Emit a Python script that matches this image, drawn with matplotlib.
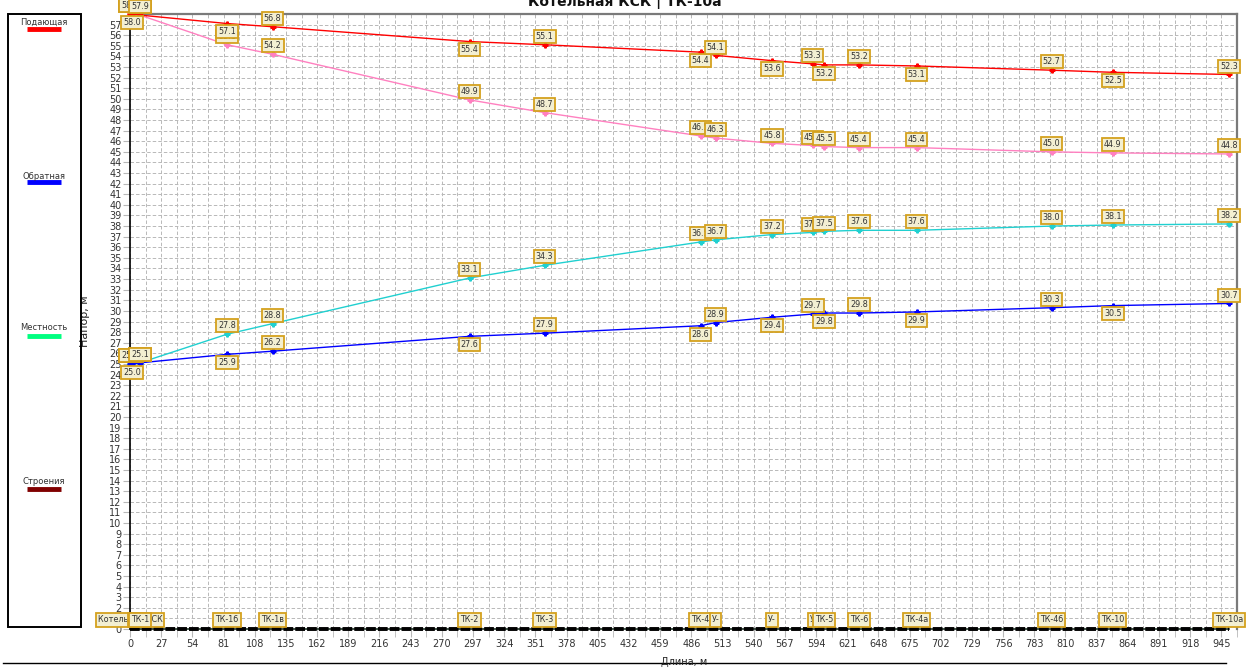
import matplotlib
matplotlib.use('Agg')
import matplotlib.pyplot as plt
from matplotlib.patches import Rectangle
from matplotlib.lines import Line2D

plt.rcParams['font.family'] = ['DejaVu Sans']
plt.rcParams['lines.scale_dashes'] = False

# ---------------- data ----------------
node_names = ['Котельная КСК', 'У', 'ТК-1', 'ТК-1б', 'ТК-1в', 'ТК-2', 'ТК-3', 'ТК-4', 'У-',
              'У-', 'У', 'ТК-5', 'ТК-6', 'ТК-4а', 'ТК-4б', 'ТК-10', 'ТК-10а']
node_x = [0, 2, 8.5, 84, 123.5, 294, 359, 494, 507, 556, 591, 601, 631, 681, 798, 851, 951.5]
supply_red = [58.0, 58.0, 57.9, 57.1, 56.8, 55.4, 55.1, 54.4, 54.1, 53.6, 53.3, 53.2, 53.2,
              53.1, 52.7, 52.5, 52.3]
supply_pink = [58.0, 58.0, 57.9, 55.1, 54.2, 49.9, 48.7, 46.5, 46.3, 45.8, 45.6, 45.5, 45.4,
               45.4, 45.0, 44.9, 44.8]
return_cyan = [25.0, 25.0, 25.1, 27.8, 28.8, 33.1, 34.3, 36.5, 36.7, 37.2, 37.4, 37.5, 37.6,
               37.6, 38.0, 38.1, 38.2]
return_blue = [25.0, 25.0, 25.1, 25.9, 26.2, 27.6, 27.9, 28.6, 28.9, 29.4, 29.7, 29.8, 29.8,
               29.9, 30.3, 30.5, 30.7]
ground = [0.0] * len(node_x)

legend_names = ['Подающая', 'Обратная', 'Местность', 'Строения']
legend_colors = ['#FF0000', '#0000FF', '#00FF80', '#800000']

title = 'Котельная КСК | ТК-10а'
xlabel = 'Длина, м'
ylabel = 'Напор, м'
xticks = list(range(0, 946, 27))
yticks = list(range(0, 58))

# ---------------- figure ----------------
W, H = 1250, 671
fig = plt.figure(figsize=(W / 100, H / 100), dpi=100)
fig.patch.set_facecolor('white')


def fx(px):
    return px / W


def fy(py):
    return 1 - py / H


ax = fig.add_axes([fx(130), fy(629), fx(1237) - fx(130), fy(14) - fy(629)])
ax.set_xlim(0, 957)
ax.set_ylim(0, 58)

ax.set_xticks(xticks)
ax.set_xticks([t + 13.5 for t in xticks], minor=True)
ax.set_yticks(yticks)
ax.tick_params(axis='x', which='both', length=6, color='#b8b8b8', pad=1.5, labelsize=7,
               labelcolor='#333333')
ax.tick_params(axis='y', length=5, color='#b8b8b8', pad=1, labelsize=7, labelcolor='#333333')
ax.grid(True, which='both', color='#b8b8b8', linestyle=(0, (2.5, 1.5)), linewidth=0.7)
ax.set_axisbelow(True)

ax.spines['bottom'].set_visible(False)
ax.spines['left'].set_color('black')
ax.spines['left'].set_linewidth(1.2)
for s in ('top', 'right'):
    ax.spines[s].set_color('#7a7a7a')
    ax.spines[s].set_linewidth(1.6)

box_style = dict(boxstyle='square,pad=0.25', fc='#F3EFD2', ec='#D4A11E', lw=1.3)
off = 6.0


def draw_series(y, color, alternate):
    ax.plot(node_x, y, color=color, lw=1.0, marker='P', ms=3.5, mec=color, mfc=color,
            clip_on=False, zorder=3)
    for i, (xv, yv) in enumerate(zip(node_x, y)):
        up = (i % 2 == 0) if alternate else True
        ax.annotate(f'{yv:.1f}', (xv, yv), xytext=(0, off if up else -off),
                    textcoords='offset points', ha='center', va='center', fontsize=5.8,
                    color='#333333', bbox=box_style, annotation_clip=False, zorder=5)


draw_series(supply_pink, '#FF80C0', False)
draw_series(return_cyan, '#20D0D0', False)
draw_series(supply_red, '#FF0000', True)
draw_series(return_blue, '#0000FF', True)

# ground / buildings line
ax.plot(node_x, ground, color='#1c3324', lw=1.2, clip_on=False, zorder=4)
ax.plot(node_x, ground, color='black', lw=2.8, linestyle=(0, (7, 1.5)), clip_on=False,
        zorder=4)

# node labels
for name, xv in zip(node_names, node_x):
    ax.text(xv, 0.85, name, ha='center', va='center', fontsize=5.8, color='#333333',
            bbox=box_style, clip_on=False, zorder=6)

ax.set_ylabel(ylabel, fontsize=8, color='#222222')
ax.yaxis.set_label_coords((90 - 130) / (1237 - 130), 0.5)

# title (partly cut at top as in reference)
fig.text(0.5, fy(6), title, ha='center', va='baseline', fontsize=10, weight='bold',
         color='#111111')

# bottom line and x label
fig.add_artist(Line2D([fx(3), fx(1226)], [fy(663), fy(663)], color='black', lw=1.0))
fig.text(fx(684), fy(662), xlabel, ha='center', va='center', fontsize=7, color='#222222')

# left legend panel
fig.add_artist(Rectangle((fx(8), fy(627)), fx(81) - fx(8), fy(14) - fy(627),
                         transform=fig.transFigure, fill=False, ec='black', lw=1.4))
legend_text_y = [22, 176, 328, 482]
legend_bar_y = [29, 182, 336, 489]
for name, col, ty, by in zip(legend_names, legend_colors, legend_text_y, legend_bar_y):
    fig.text(fx(44), fy(ty), name, ha='center', va='center', fontsize=6, color='#333333')
    fig.add_artist(Line2D([fx(27), fx(61)], [fy(by), fy(by)], color=col, lw=3.5,
                          solid_capstyle='butt'))

fig.savefig('out.png', dpi=100)
